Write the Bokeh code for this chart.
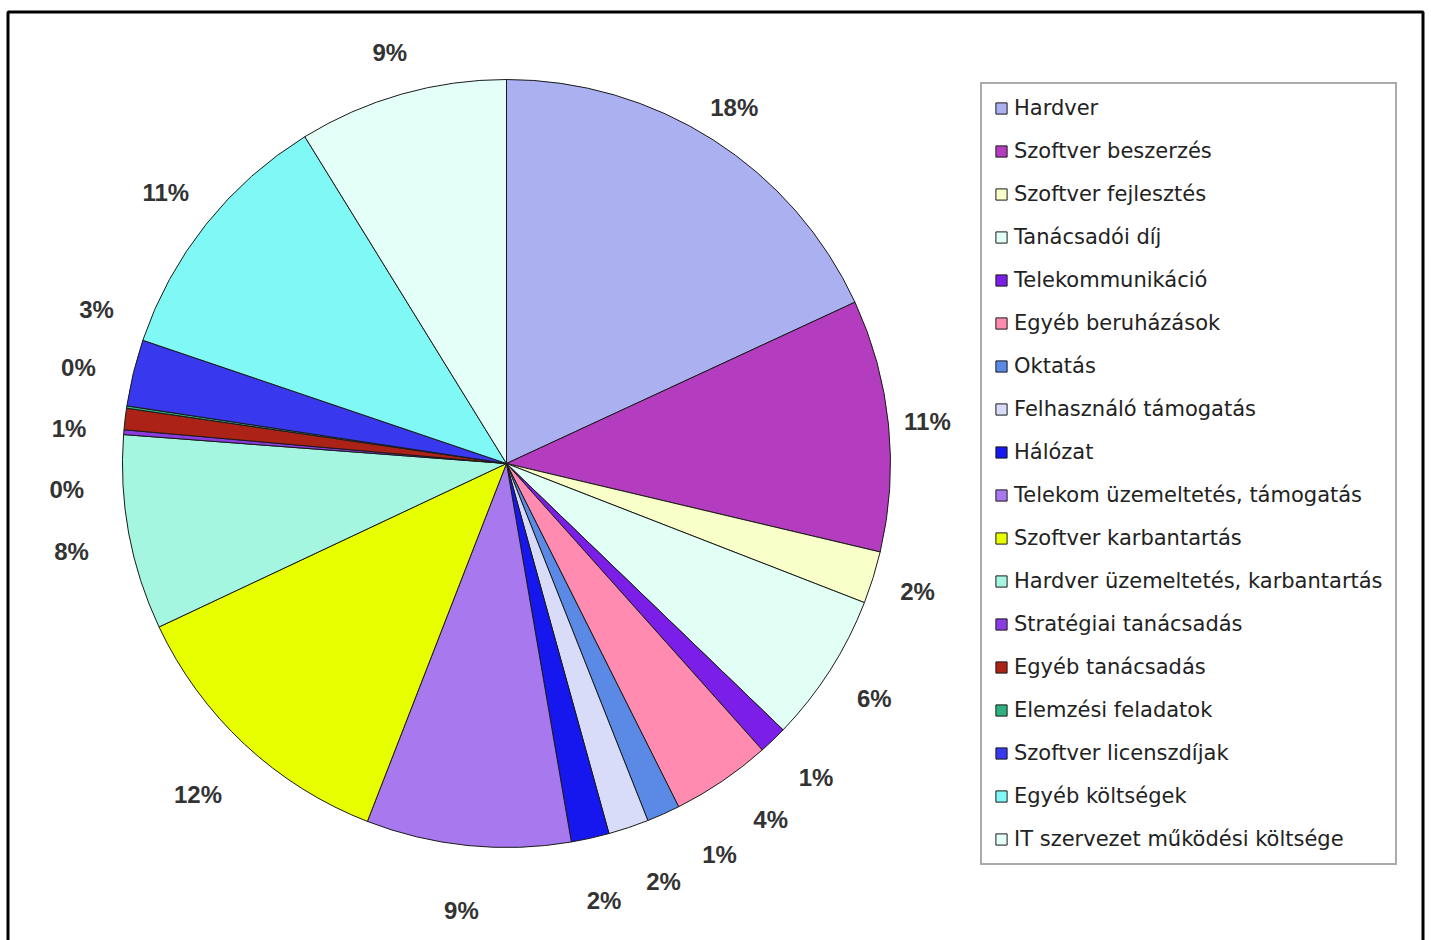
import math

from bokeh.plotting import figure
from bokeh.models import BoxAnnotation, ColumnDataSource, Legend, LegendItem, Range1d
from bokeh.core.properties import value
from bokeh.embed import file_html
from bokeh.resources import INLINE

# IT cost breakdown (share of total, %)
categories = [
    "Hardver",
    "Szoftver beszerzés",
    "Szoftver fejlesztés",
    "Tanácsadói díj",
    "Telekommunikáció",
    "Egyéb beruházások",
    "Oktatás",
    "Felhasználó támogatás",
    "Hálózat",
    "Telekom üzemeltetés, támogatás",
    "Szoftver karbantartás",
    "Hardver üzemeltetés, karbantartás",
    "Stratégiai tanácsadás",
    "Egyéb tanácsadás",
    "Elemzési feladatok",
    "Szoftver licenszdíjak",
    "Egyéb költségek",
    "IT szervezet működési költsége",
]
shares = [18.1, 10.6, 2.2, 6.3, 1.2, 4.2, 1.4, 1.7, 1.6,
          8.6, 12.1, 8.2, 0.2, 0.9, 0.1, 2.8, 11.0, 8.8]
colors = [
    "#AAB0F0", "#B43CBE", "#F8FFC8", "#E2FFF6", "#7A1EE8", "#FF8CB0",
    "#5A8AE6", "#D8DCF8", "#1616EE", "#A878EE", "#E8FF00", "#A4F6E0",
    "#8A3CE0", "#AC2216", "#30B080", "#3838EE", "#80F8F6", "#E4FFF8",
]

# page geometry (pixels)
W, H = 1431, 940
CX, CY = 506, 463              # pie centre on the page
R = 384                        # pie radius

p = figure(
    width=W, height=H,
    x_range=Range1d(-CX, W - CX),
    y_range=Range1d(CY - H, CY),
    output_backend="svg", toolbar_location=None, min_border=0,
)
p.xaxis.visible = False
p.yaxis.visible = False
p.xgrid.visible = False
p.ygrid.visible = False
p.outline_line_color = None
p.background_fill_color = "white"
p.border_fill_color = "white"

# black frame around the chart area (its lower edge runs off the page)
p.add_layout(BoxAnnotation(
    left=7.5 - CX, right=W - 8.5 - CX, top=CY - 11.5, bottom=CY - H - 30,
    fill_alpha=0, line_color="black", line_alpha=1.0, line_width=3,
))

total = sum(shares)
fracs = [s / total for s in shares]
starts, ends, mids = [], [], []
acc = 0.0
for f in fracs:
    starts.append(acc)
    mids.append(acc + f / 2)
    acc += f
    ends.append(acc)

# clockwise from 12 o'clock
start_angle = [math.pi / 2 - 2 * math.pi * a for a in starts]
end_angle = [math.pi / 2 - 2 * math.pi * a for a in ends]

src = ColumnDataSource(dict(
    cat=categories, share=shares, color=colors,
    start=start_angle, end=end_angle,
))
wedges = p.wedge(
    x=0, y=0, radius=R, start_angle="start", end_angle="end",
    direction="clock", fill_color="color", line_color="#1a1a1a",
    line_width=1, source=src,
)

# percentage labels at the slice mid-angle, nudged apart where slices are thin
theta = [2 * math.pi * m for m in mids]        # clockwise from top
gap = math.radians(8)
right = [i for i, t in enumerate(theta) if t < math.pi]
left = [i for i, t in enumerate(theta) if t >= math.pi]

# right half: push labels upwards from the bottom
for a, b in reversed(list(zip(right[:-1], right[1:]))):
    theta[a] = min(theta[a], theta[b] - gap)
if right and left:
    theta[right[-1]] = min(theta[right[-1]], theta[left[0]] - gap)

# left half: spread symmetrically
for _ in range(400):
    moved = False
    for a, b in zip(left[:-1], left[1:]):
        d = theta[b] - theta[a]
        if d < gap:
            push = (gap - d) / 2
            theta[a] -= push
            theta[b] += push
            moved = True
    if not moved:
        break

lx, ly, txt = [], [], []
for t, f in zip(theta, fracs):
    s, c = math.sin(t), math.cos(t)
    dist = R + 39 + 25 * max(0.0, -c) + 16 * max(0.0, -s)
    lx.append(dist * s)
    ly.append(dist * c)
    txt.append(f"{int(math.floor(f * 100 + 0.5))}%")

lab_src = ColumnDataSource(dict(x=lx, y=ly, text=txt))
p.text(
    x="x", y="y", text="text", source=lab_src,
    text_font=value("Liberation Sans"), text_font_style="bold",
    text_font_size="24px", text_color="#333333",
    text_align="center", text_baseline="middle",
)

items = [LegendItem(label=c, renderers=[wedges], index=i) for i, c in enumerate(categories)]
legend = Legend(
    items=items, location=(980, H - 865),
    label_text_font="DejaVu Sans", label_text_font_size="21px",
    label_text_color="#222222",
    glyph_width=14, glyph_height=14, label_standoff=6,
    label_height=20, label_width=368,
    spacing=19, padding=12, margin=0,
    border_line_color="#555555", border_line_width=2,
    background_fill_color="white", background_fill_alpha=1.0,
)
p.add_layout(legend)

open("out.html", "w").write(file_html(p, INLINE))
